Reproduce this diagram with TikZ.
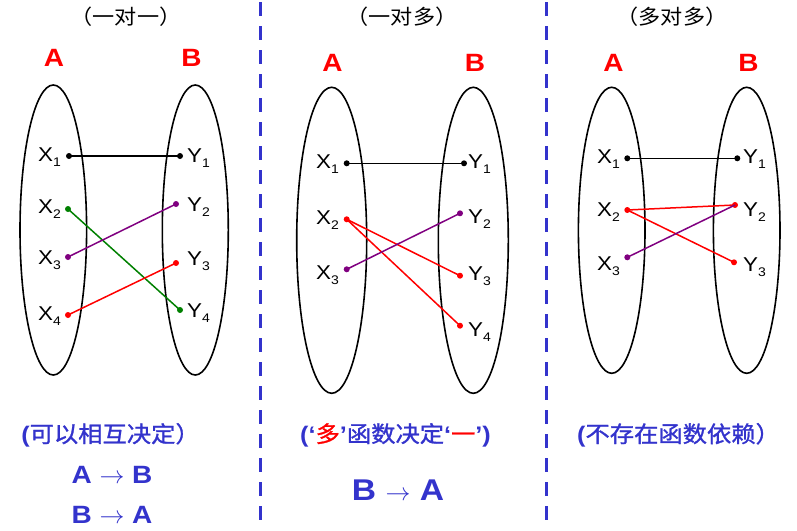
\documentclass[tikz,border=0pt]{standalone}
\usepackage{fontspec}
\setmainfont[FakeStretch=1.12]{Liberation Sans}
\newfontfamily\cjk[FakeStretch=1.08]{Noto Sans CJK SC}
\newfontfamily\cjkb[FakeStretch=1.08,FakeBold=1.2]{Noto Sans CJK SC}
\usetikzlibrary{shapes.geometric}
\definecolor{myblue}{RGB}{51,51,204}
\definecolor{mypurple}{RGB}{128,0,128}
\definecolor{mygreen}{RGB}{0,128,0}
\definecolor{myred}{RGB}{255,0,0}
\newcommand\xl[2]{#1\raisebox{-5pt}{\fontsize{12.5}{12.5}\selectfont #2}}
\newcommand\myLq{{\rmfamily\bfseries\char"2018}}
\newcommand\myRq{{\rmfamily\bfseries\char"2019}}
\tikzset{
  setell/.style={draw, ellipse, line width=1.6pt, inner sep=0pt},
  dotpt/.style={circle, fill, inner sep=0pt, minimum size=6pt},
  conn/.style={line width=1.5pt},
  xlab/.style={anchor=base east, inner sep=0pt, font=\fontsize{20}{20}\selectfont},
  ylab/.style={anchor=base west, inner sep=0pt, font=\fontsize{20}{20}\selectfont},
  setname/.style={text=myred, font=\fontsize{25}{25}\selectfont\bfseries, inner sep=0pt},
  ttl/.style={font=\fontsize{20.5}{22}\cjk, inner sep=0pt},
  note/.style={text=myblue, font=\fontsize{22.5}{24}\cjkb, inner sep=0pt},
  rel/.style={text=myblue, anchor=base, inner sep=0pt},
  sep/.style={draw=myblue, line width=3pt, dash pattern=on 14pt off 10pt}
}
\begin{document}
\begin{tikzpicture}[x=1pt,y=-1pt]
\useasboundingbox (0,0) rectangle (797,530);
% separators
\coordinate (s1t) at (260.5,2); \coordinate (s1b) at (260.5,530);
\coordinate (s2t) at (546.5,2); \coordinate (s2b) at (546.5,530);
\draw[sep] (s1t) -- (s1b);
\draw[sep] (s2t) -- (s2b);
% titles
\node[ttl] (t1) at (126,17) {（一对一）};
\node[ttl] (t2) at (402,17) {（一对多）};
\node[ttl] (t3) at (672,17) {（多对多）};
% ===== panel 1 =====
\node[setname] (p1A) at (54,57.5) {A};
\node[setname] (p1B) at (191.5,57.5) {B};
\node[setell, minimum width=66.6pt, minimum height=290pt] (p1ea) at (53.3,230) {};
\node[setell, minimum width=66pt, minimum height=290pt] (p1eb) at (195.3,230) {};
\node[dotpt, black] (p1x1) at (69,156) {};
\node[dotpt, mygreen] (p1x2) at (68,209) {};
\node[dotpt, mypurple] (p1x3) at (68,257) {};
\node[dotpt, myred] (p1x4) at (68,315) {};
\node[dotpt, black] (p1y1) at (180,156) {};
\node[dotpt, mypurple] (p1y2) at (176,204) {};
\node[dotpt, myred] (p1y3) at (176,263) {};
\node[dotpt, mygreen] (p1y4) at (180,310) {};
\node[xlab] (p1lx1) at (61,161) {\xl{X}{1}};
\node[xlab] (p1lx2) at (61,213) {\xl{X}{2}};
\node[xlab] (p1lx3) at (61,264) {\xl{X}{3}};
\node[xlab] (p1lx4) at (61,320) {\xl{X}{4}};
\node[ylab] (p1ly1) at (187,162) {\xl{Y}{1}};
\node[ylab] (p1ly2) at (187,211) {\xl{Y}{2}};
\node[ylab] (p1ly3) at (187,265) {\xl{Y}{3}};
\node[ylab] (p1ly4) at (187,317) {\xl{Y}{4}};
\draw[conn, black] (p1x1.center) -- (p1y1.center);
\draw[conn, mygreen] (p1x2.center) -- (p1y4.center);
\draw[conn, mypurple] (p1x3.center) -- (p1y2.center);
\draw[conn, myred] (p1x4.center) -- (p1y3.center);
% ===== panel 2 =====
\node[setname] (p2A) at (332.5,62.5) {A};
\node[setname] (p2B) at (475,62.5) {B};
\node[setell, minimum width=70pt, minimum height=306pt] (p2ea) at (331.7,240.3) {};
\node[setell, minimum width=70pt, minimum height=306pt] (p2eb) at (473.3,240.3) {};
\node[dotpt, black] (p2x1) at (346.7,163.3) {};
\node[dotpt, myred] (p2x2) at (346.7,219.3) {};
\node[dotpt, mypurple] (p2x3) at (346.7,269.3) {};
\node[dotpt, black] (p2y1) at (464,163.3) {};
\node[dotpt, mypurple] (p2y2) at (460,213.3) {};
\node[dotpt, myred] (p2y3) at (460,275.7) {};
\node[dotpt, myred] (p2y4) at (460,325.7) {};
\node[xlab] (p2lx1) at (339,168) {\xl{X}{1}};
\node[xlab] (p2lx2) at (339,224) {\xl{X}{2}};
\node[xlab] (p2lx3) at (339,279) {\xl{X}{3}};
\node[ylab] (p2ly1) at (468,168) {\xl{Y}{1}};
\node[ylab] (p2ly2) at (468,223) {\xl{Y}{2}};
\node[ylab] (p2ly3) at (468,280) {\xl{Y}{3}};
\node[ylab] (p2ly4) at (468,336) {\xl{Y}{4}};
\draw[conn, black] (p2x1.center) -- (p2y1.center);
\draw[conn, myred] (p2x2.center) -- (p2y3.center);
\draw[conn, myred] (p2x2.center) -- (p2y4.center);
\draw[conn, mypurple] (p2x3.center) -- (p2y2.center);
% ===== panel 3 =====
\node[setname] (p3A) at (613.5,62.5) {A};
\node[setname] (p3B) at (748.5,62.5) {B};
\node[setell, minimum width=66.6pt, minimum height=286pt] (p3ea) at (611.7,230.3) {};
\node[setell, minimum width=66.6pt, minimum height=286pt] (p3eb) at (746.7,230.3) {};
\node[dotpt, black] (p3x1) at (627.3,158.3) {};
\node[dotpt, myred] (p3x2) at (627.3,210) {};
\node[dotpt, mypurple] (p3x3) at (627.3,257.3) {};
\node[dotpt, black] (p3y1) at (737.3,158.3) {};
\node[dotpt, myred] (p3y2) at (735,205) {};
\node[dotpt, myred] (p3y3) at (734,262.3) {};
\node[xlab] (p3lx1) at (620,163) {\xl{X}{1}};
\node[xlab] (p3lx2) at (620,216) {\xl{X}{2}};
\node[xlab] (p3lx3) at (620,270) {\xl{X}{3}};
\node[ylab] (p3ly1) at (743,163) {\xl{Y}{1}};
\node[ylab] (p3ly2) at (743,216) {\xl{Y}{2}};
\node[ylab] (p3ly3) at (743,271) {\xl{Y}{3}};
\draw[conn, black] (p3x1.center) -- (p3y1.center);
\draw[conn, myred] (p3x2.center) -- (p3y2.center);
\draw[conn, myred] (p3x2.center) -- (p3y3.center);
\draw[conn, mypurple] (p3x3.center) -- (p3y2.center);
% ===== bottom notes =====
\node[note] (n1) at (110.5,435) {{\rmfamily\bfseries(}可以相互决定）};
\node[rel, font=\fontsize{25}{25}\selectfont\bfseries] (r1) at (112,483) {A $\rightarrow$ B};
\node[rel, font=\fontsize{25}{25}\selectfont\bfseries] (r2) at (112,523) {B $\rightarrow$ A};
\node[note] (n2) at (395.5,435) {{\rmfamily\bfseries(}\myLq\textcolor{myred}{多}\myRq 函数决定\myLq\textcolor{myred}{一}\myRq{\rmfamily\bfseries)}};
\node[rel, font=\fontsize{30}{30}\selectfont\bfseries] (r3) at (398,500) {B $\rightarrow$ A};
\node[note] (n3) at (678.5,435) {{\rmfamily\bfseries(}不存在函数依赖）};
\end{tikzpicture}
\end{document}
